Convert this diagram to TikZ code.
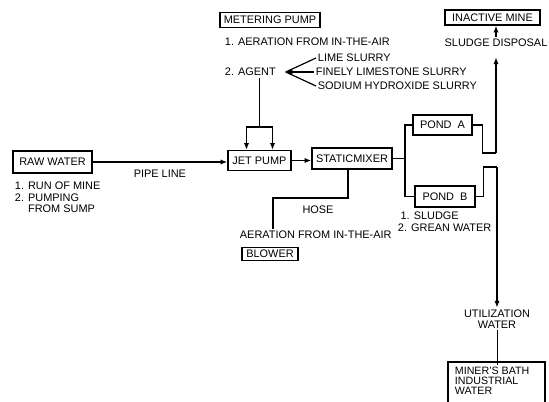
\documentclass[tikz,border=0pt]{standalone}
\usepackage{fontspec}
\setmainfont{Liberation Sans}
\usetikzlibrary{arrows.meta}
\begin{document}
\begin{tikzpicture}[x=0.75pt,y=-0.75pt,font=\fontsize{8.2}{8.6}\selectfont,line width=0.9pt,
  box/.style={draw,line width=1.2pt,inner sep=1pt,minimum height=15},
  txt/.style={inner sep=1pt,anchor=west},
  >={Latex[length=5pt,width=4pt]}]
\useasboundingbox (0,0) rectangle (549,401);\clip (0,0) rectangle (549,401);
% boxes
\node[box,minimum width=59,minimum height=16.5] (raw) at (52.5,162) {RAW WATER};
\node[box,minimum width=47.25] (jet) at (259.5,160.5) {JET PUMP};
\node[box,minimum width=60,minimum height=15.75] (mixer) at (352,158.5) {STATICMIXER};
\node[box,minimum width=75,minimum height=11] (meter) at (270,20) {METERING PUMP};
\node[box,minimum width=42,minimum height=9.5] (blower) at (270,254) {BLOWER};
\node[box,minimum width=44.25] (pondA) at (442.5,125) {POND\ \ A};
\node[box,minimum width=45,minimum height=15.75] (pondB) at (445,196.5) {POND\ \ B};
\node[box,minimum width=71,minimum height=11.25] (inactive) at (492.5,17.5) {INACTIVE MINE};
\node[txt,anchor=north west,align=left,font=\fontsize{8}{7.6}\selectfont] (miners) at (453,365) {MINER'S BATH\\INDUSTRIAL\\WATER};
\draw[line width=1.2pt] (448,420) |- (545,362) -- (545,420);
% texts
\node[txt,align=left] (source) at (13,197.5) {1. RUN OF MINE\\2. PUMPING\\\phantom{2. }FROM SUMP};
\node[txt] (aerA) at (223,42) {1. AERATION FROM IN-THE-AIR};
\node[txt] (agent) at (223,72) {2. AGENT};
\node[txt] (lime) at (316,58) {LIME SLURRY};
\node[txt] (finely) at (314,72) {FINELY LIMESTONE SLURRY};
\node[txt] (sodium) at (316,86) {SODIUM HYDROXIDE SLURRY};
\node[txt] (aerB) at (238,235) {AERATION FROM IN-THE-AIR};
\node[txt,align=left,font=\fontsize{8.2}{9}\selectfont] (sludge) at (396,222) {\hspace{2pt}1. SLUDGE\\2. GREAN WATER};
\node[inner sep=1pt] (disposal) at (496,43) {SLUDGE DISPOSAL};
\node[inner sep=1pt,align=center] (util) at (497,319) {UTILIZATION\\WATER};
% connectors
\draw[->] (raw) -- node[below=2pt] (pipe) {PIPE LINE} (raw -| jet.west);
\coordinate (tip) at ([xshift=6]agent.east);
\draw (lime.west) -- (tip) (sodium.west) -- (tip);\draw[->] (finely.west) -- (tip);
\coordinate (split) at (jet.north |- 0,127);
\draw (split |- agent.south) -- (split);
\draw[->] (split) -| ([xshift=-9.75]jet.north);\draw[->] (split) -| ([xshift=9.75]jet.north);
\draw[->] (jet) -- (jet -| mixer.west);
\coordinate (hosebend) at (273,198);
\draw ([xshift=-3]mixer.south) |- node[pos=0.7,below=2pt] (hose) {HOSE} (hosebend) -- (hosebend |- aerB.north);
\coordinate (fork) at (mixer.east -| 405,0);
\draw (mixer.east) -- (fork);\draw (pondA.west) -| (fork) |- (pondB.west);
\coordinate (joinA) at (496,153);\coordinate (joinB) at (497,167);
\draw (pondA.east) -- ++(10,0) |- (joinA);\draw (pondB.east) -- ++(8,0) |- (joinB);
\draw[->,shorten >=6.5pt] (joinA) -- (joinA |- disposal.south);\draw[->] (joinA |- disposal.north) -- (joinA |- inactive.south);
\draw[->] (joinB) -- (joinB |- util.north);\draw[line width=0.5pt] (util.south) -- (util.south |- miners.north);
\end{tikzpicture}
\end{document}
